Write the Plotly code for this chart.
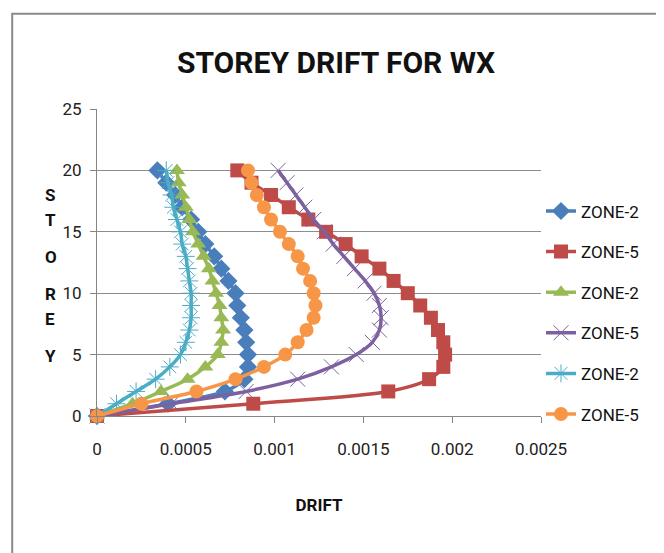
import plotly.graph_objects as go

storey = list(range(0, 21))

# drift values, storey 0..20
zone2_a = [0, 0.00040, 0.00072, 0.00083, 0.00085, 0.00085, 0.00084, 0.00083, 0.00081,
           0.00079, 0.00078, 0.00074, 0.00070, 0.00066, 0.00061, 0.00057, 0.00053,
           0.00048, 0.00044, 0.00039, 0.00034]
zone5_a = [0, 0.00088, 0.00164, 0.00187, 0.00195, 0.00196, 0.00195, 0.00192, 0.00188,
           0.00182, 0.00175, 0.00167, 0.00159, 0.00149, 0.00140, 0.00129, 0.00119,
           0.00108, 0.00098, 0.00087, 0.00079]
zone2_b = [0, 0.00020, 0.00036, 0.00051, 0.00061, 0.00068, 0.00070, 0.00071, 0.00070,
           0.00069, 0.00067, 0.00065, 0.00063, 0.00060, 0.00057, 0.00054, 0.00052,
           0.00050, 0.00048, 0.00046, 0.00045]
zone5_b = [0, 0.00042, 0.00084, 0.00113, 0.00132, 0.00146, 0.00155, 0.00159, 0.00160,
           0.00159, 0.00156, 0.00151, 0.00145, 0.00139, 0.00133, 0.00128, 0.00122,
           0.00117, 0.00112, 0.00107, 0.00102]
zone2_c = [0, 0.00011, 0.00022, 0.00033, 0.00041, 0.00047, 0.00050, 0.00052, 0.00053,
           0.00053, 0.00053, 0.00052, 0.00051, 0.00050, 0.00048, 0.00047, 0.00045,
           0.00043, 0.00042, 0.00040, 0.00039]
zone5_c = [0, 0.00025, 0.00056, 0.00078, 0.00094, 0.00106, 0.00113, 0.00118, 0.00122,
           0.00123, 0.00122, 0.00120, 0.00116, 0.00113, 0.00108, 0.00103, 0.00098,
           0.00094, 0.00090, 0.00087, 0.00085]

x_ticks = [0, 0.0005, 0.001, 0.0015, 0.002, 0.0025]
x_tick_text = ["0", "0.0005", "0.001", "0.0015", "0.002", "0.0025"]

series = [
    ("ZONE-2", zone2_a, "#4A7EBB", "diamond", 14),
    ("ZONE-5", zone5_a, "#BE4B48", "square", 14),
    ("ZONE-2", zone2_b, "#98B954", "triangle-up", 14),
    ("ZONE-5", zone5_b, "#7D60A0", "x-thin-open", 15),
    ("ZONE-2", zone2_c, "#4BACC6", "asterisk-open", 15),
    ("ZONE-5", zone5_c, "#F79646", "circle", 14),
]

FONT = "Roboto, sans-serif"

fig = go.Figure()
for i, (name, vals, col, sym, size) in enumerate(series):
    thin = sym.endswith("-open")
    fig.add_trace(go.Scatter(
        x=vals, y=storey, name=name, mode="lines+markers",
        legendgroup=f"g{i}",
        line=dict(color=col, width=3.5, shape="spline", smoothing=0.8),
        marker=dict(symbol=sym, size=size, color=col,
                    line=dict(color=col, width=1) if thin else dict(width=0)),
        cliponaxis=False,
    ))

fig.update_xaxes(
    range=[0, 0.0025], tickvals=x_ticks, ticktext=x_tick_text,
    showgrid=False, zeroline=False, showline=True, linecolor="#868686",
    ticks="outside", ticklen=6, tickcolor="#868686", ticklabelstandoff=12,
    tickfont=dict(family=FONT, size=17, color="#222"),
    title=dict(text="<b>DRIFT</b>", font=dict(family=FONT, size=17, color="#111"),
               standoff=40),
)
fig.update_yaxes(
    range=[0, 25], dtick=5,
    showgrid=True, gridcolor="#8c8c8c", gridwidth=1, zeroline=False,
    showline=True, linecolor="#868686",
    ticks="outside", ticklen=6, tickcolor="#868686", ticklabelstandoff=5,
    tickfont=dict(family=FONT, size=17, color="#222"),
)

# stacked vertical axis title
for k, ch in enumerate("STOREY"):
    fig.add_annotation(text=f"<b>{ch}</b>", xref="paper", yref="paper",
                       x=-0.122, y=0.759 - k * 0.1206, showarrow=False,
                       font=dict(family=FONT, size=17, color="#111"))

fig.add_shape(type="rect", xref="paper", yref="paper",
              x0=-0.191, x1=1.266, y0=-0.6, y1=1.31,
              line=dict(color="#8a8a8a", width=2), layer="below")

fig.update_layout(
    width=664, height=553,
    title=dict(text="<b>STOREY DRIFT FOR WX</b>", x=0.494, xanchor="center",
               y=0.902, yanchor="middle",
               font=dict(family=FONT, size=30, color="#111")),
    plot_bgcolor="white", paper_bgcolor="white",
    margin=dict(l=89, r=131, t=101, b=145),
    legend=dict(x=1.0, xanchor="left", y=0.725, yanchor="top",
                font=dict(family=FONT, size=17, color="#111"),
                tracegroupgap=15.5, itemwidth=30, bgcolor="rgba(0,0,0,0)"),
)

fig.write_html("out.html")
